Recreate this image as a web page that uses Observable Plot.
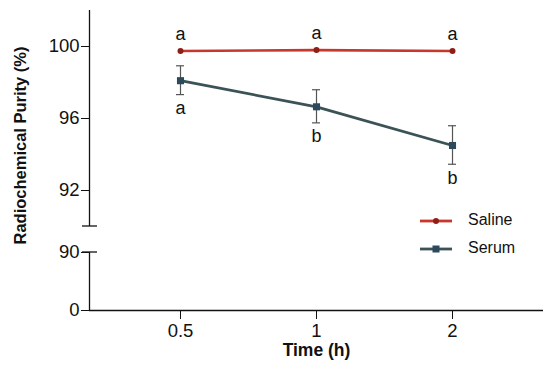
<!DOCTYPE html>
<html>
<head>
<meta charset="utf-8">
<script src="https://cdn.jsdelivr.net/npm/d3@7"></script>
<script src="https://cdn.jsdelivr.net/npm/@observablehq/plot@0.6"></script>
<style>
  body { margin: 0; background: #fff; }
  #wrap { position: relative; width: 550px; height: 376px; font-family: "Liberation Sans", Arial, sans-serif; }
  #legend { position: absolute; left: 418px; top: 209px; font-size: 16px; color: #111; }
  .li { position: relative; height: 28px; }
  .li svg { position: absolute; left: 0; top: 0; }
  .li span { position: absolute; left: 50px; top: 2px; }
</style>
</head>
<body>
<div id="wrap"></div>
<script>
const times = ["0.5", "1", "2"];
const salineMean = [99.75, 99.8, 99.75];
const serumMean = [98.1, 96.65, 94.5];
const serumSD = [0.8, 0.92, 1.07];
const salineLetters = ["a", "a", "a"];
const serumLetters = ["a", "b", "b"];
const yTicks = [0, 90, 92, 96, 100];

const saline = times.map((t, i) => ({i, t, v: salineMean[i], l: salineLetters[i]}));
const serum = times.map((t, i) => ({i, t, v: serumMean[i], sd: serumSD[i], l: serumLetters[i]}));

const red = "#c8372d";
const slate = "#3b5356";
const slateMark = "#2c4a5c";
const xMin = -0.669, xMax = 2.669;

const chart = Plot.plot({
  width: 550,
  height: 376,
  marginLeft: 89,
  marginRight: 7,
  marginTop: 10,
  marginBottom: 66,
  style: {fontFamily: "Liberation Sans, Arial, sans-serif", fontSize: "14px", color: "#111", background: "#fff"},
  x: {type: "linear", domain: [xMin, xMax], axis: null},
  y: {type: "linear", domain: [0, 90, 90.0001, 102], range: [310, 252, 226, 10], axis: null},
  marks: [
    Plot.ruleX([xMin], {y1: 0, y2: 90, stroke: "#111", strokeWidth: 1.3}),
    Plot.ruleX([xMin], {y1: 90.0001, y2: 102, stroke: "#111", strokeWidth: 1.3}),
    Plot.axisY({ticks: yTicks, tickSize: 8, tickPadding: 2, fontSize: 18.5, anchor: "left", label: null, tickFormat: d => d, stroke: "#111"}),
    Plot.ruleY([0], {x1: xMin, x2: xMax, stroke: "#111", strokeWidth: 1.3}),
    Plot.axisX({ticks: [0, 1, 2], tickFormat: d => times[d], tickSize: 9, tickPadding: 4, fontSize: 18.5, anchor: "bottom", label: null, stroke: "#111"}),
    Plot.ruleX(serum, {x: "i", y1: d => d.v - d.sd, y2: d => d.v + d.sd, stroke: "#555", strokeWidth: 1.2}),
    Plot.line(saline, {x: "i", y: "v", stroke: red, strokeWidth: 2.6}),
    Plot.dot(saline, {x: "i", y: "v", r: 3, fill: "#8e1e16", stroke: "none"}),
    Plot.line(serum, {x: "i", y: "v", stroke: slate, strokeWidth: 2.8}),
    Plot.dot(serum, {x: "i", y: "v", symbol: "square", r: 4, fill: slateMark, stroke: "none"}),
    Plot.text(saline, {x: "i", y: "v", text: "l", dy: -17, fontSize: 18}),
    Plot.text(serum, {x: "i", y: d => d.v - d.sd, text: "l", dy: 13, fontSize: 18}),
    Plot.text(["Time (h)"], {frameAnchor: "bottom", dy: 45, fontSize: 17.5, fontWeight: "bold"}),
    Plot.text(["Radiochemical Purity (%)"], {frameAnchor: "left", textAnchor: "middle", dx: -69, dy: -15, rotate: -90, fontSize: 16.5, fontWeight: "bold"})
  ]
});

const sx = chart.scale("x"), sy = chart.scale("y");
const svg = d3.select(chart);
const x0 = sx.apply(xMin);
[90, 90.0001].forEach(v => {
  svg.append("line").attr("x1", x0 - 7).attr("x2", x0 + 8).attr("y1", sy.apply(v)).attr("y2", sy.apply(v)).attr("stroke", "#111").attr("stroke-width", 1.3);
});
serum.forEach(d => {
  [d.v - d.sd, d.v + d.sd].forEach(v => {
    svg.append("line").attr("x1", sx.apply(d.i) - 4).attr("x2", sx.apply(d.i) + 4).attr("y1", sy.apply(v)).attr("y2", sy.apply(v)).attr("stroke", "#555").attr("stroke-width", 1.2);
  });
});

document.getElementById("wrap").appendChild(chart);

const legendItems = [{name: "Saline", color: red, mark: "#8e1e16", sym: "circle"}, {name: "Serum", color: slate, mark: slateMark, sym: "square"}];
const lg = document.createElement("div");
lg.id = "legend";
legendItems.forEach(it => {
  const row = document.createElement("div");
  row.className = "li";
  const markSvg = it.sym === "circle"
    ? `<circle cx="18" cy="12" r="3" fill="${it.mark}"/>`
    : `<rect x="14.5" y="8.5" width="7" height="7" fill="${it.mark}"/>`;
  row.innerHTML = `<svg width="40" height="24"><line x1="2" x2="34" y1="12" y2="12" stroke="${it.color}" stroke-width="2.8"/>${markSvg}</svg><span>${it.name}</span>`;
  lg.appendChild(row);
});
document.getElementById("wrap").appendChild(lg);
</script>
</body>
</html>
